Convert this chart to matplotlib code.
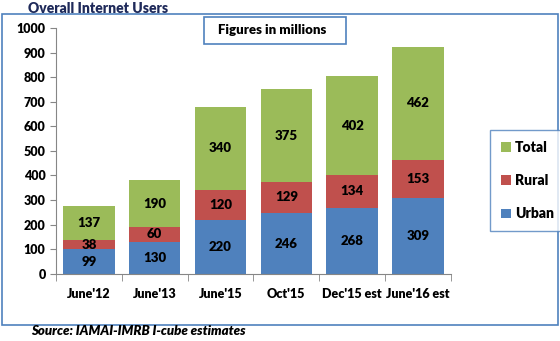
import matplotlib.pyplot as plt
from matplotlib.patches import Rectangle

plt.rcParams["font.family"] = ["Lato", "DejaVu Sans"]
plt.rcParams["font.weight"] = "heavy"
WT = "heavy"

categories = ["June'12", "June'13", "June'15", "Oct'15", "Dec'15 est", "June'16 est"]
urban = [99, 130, 220, 246, 268, 309]
rural = [38, 60, 120, 129, 134, 153]
total = [137, 190, 340, 375, 402, 462]

c_urban = "#4f81bd"
c_rural = "#c0504d"
c_total = "#9bbb59"

fig = plt.figure(figsize=(5.6, 3.41), dpi=100)
ax = fig.add_axes([0.100, 0.197, 0.705, 0.721])

x = range(len(categories))
w = 0.78
b1 = ax.bar(x, urban, w, color=c_urban, label="Urban")
b2 = ax.bar(x, rural, w, bottom=urban, color=c_rural, label="Rural")
bottom3 = [u + r for u, r in zip(urban, rural)]
b3 = ax.bar(x, total, w, bottom=bottom3, color=c_total, label="Total")

for bars in (b1, b2, b3):
    ax.bar_label(bars, label_type="center", fontsize=9.5, fontweight=WT)

ax.set_xlim(-0.5, len(categories) - 0.5)
ax.set_ylim(0, 1000)
ax.set_yticks(range(0, 1001, 100))
ax.set_xticks(x)
ax.set_xticklabels(categories, fontsize=9, fontweight=WT)
ax.set_xticks([i + 0.5 for i in range(-1, len(categories))], minor=True)
ax.tick_params(axis="x", which="major", length=0, pad=10)
ax.tick_params(axis="x", which="minor", length=5, color="#868686")
ax.tick_params(axis="y", labelsize=9, length=4, color="#868686")
for lbl in ax.get_yticklabels():
    lbl.set_fontweight(WT)
for s in ("top", "right"):
    ax.spines[s].set_visible(False)
for s in ("left", "bottom"):
    ax.spines[s].set_color("#868686")

handles = [b3, b2, b1]
leg = fig.legend(handles, ["Total", "Rural", "Urban"], loc="upper left",
                 bbox_to_anchor=(0.875, 0.619), frameon=True, fancybox=False,
                 handlelength=0.7, handleheight=0.7, labelspacing=1.45,
                 prop={"weight": WT, "size": 10}, borderpad=0.8,
                 handletextpad=0.3, borderaxespad=0)
leg.get_frame().set_edgecolor(c_urban)
leg.get_frame().set_linewidth(1.0)

# outer chart border
fig.patches.append(Rectangle((0.004, 0.047), 0.992, 0.912, transform=fig.transFigure,
                             fill=False, edgecolor=c_urban, linewidth=1.2))

# note box
fig.patches.append(Rectangle((0.364, 0.871), 0.254, 0.079, transform=fig.transFigure,
                             facecolor="white", edgecolor=c_urban, linewidth=1.2))
fig.text(0.389, 0.911, "Figures in millions", fontsize=9.5, fontweight=WT,
         va="center", ha="left")

fig.text(0.05, 0.993, "Overall Internet Users", fontsize=10, fontweight=WT,
         color="#1f2a5a", va="top", ha="left")
fig.text(0.055, 0.013, "Source: IAMAI-IMRB I-cube estimates", fontsize=9.5,
         fontweight=WT, style="italic", va="bottom", ha="left")

fig.savefig("out.png", dpi=100)
